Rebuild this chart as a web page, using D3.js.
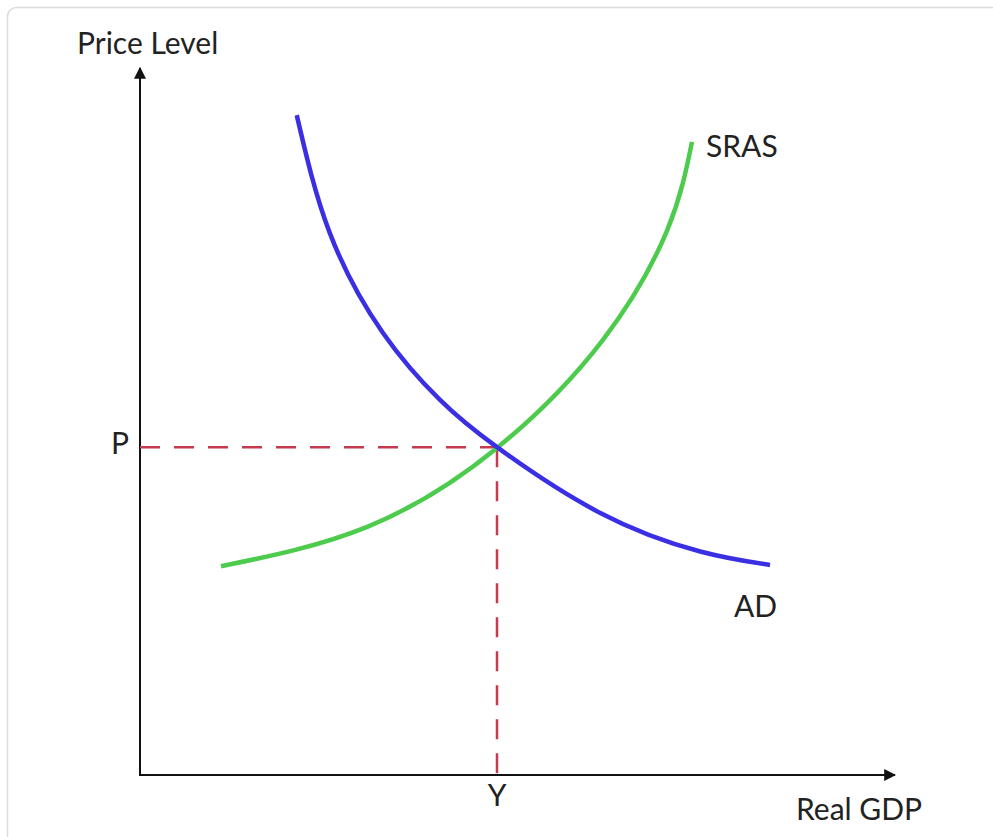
<!DOCTYPE html>
<html>
<head>
<meta charset="utf-8">
<script src="https://cdn.jsdelivr.net/npm/d3@7"></script>
<style>
  body { margin: 0; background: #fff; }
  text { font-family: Lato, "Open Sans", sans-serif; fill: #222; }
</style>
</head>
<body>
<div id="chart"></div>
<script>
// Curve data (abstract units, 0-10 on both axes)
const srasX = [1.08, 3.03, 4.76, 6.17, 7.03, 7.36];
const srasY = [2.96, 3.52, 4.64, 6.17, 7.73, 8.98];
const adX = [2.09, 2.53, 3.24, 4.00, 4.76, 6.13, 7.47, 8.40];
const adY = [9.36, 7.69, 6.27, 5.32, 4.65, 3.72, 3.17, 2.98];
const equilibrium = { x: 4.76, y: 4.65 };
const labels = { y: 'Price Level', x: 'Real GDP', p: 'P', q: 'Y', sras: 'SRAS', ad: 'AD' };

const width = 993;
const height = 837;

const svg = d3.select('#chart')
    .append('svg')
    .attr('width', width)
    .attr('height', height);

// light frame around the figure
svg.append('rect')
    .attr('x', 7.5)
    .attr('y', 7.5)
    .attr('width', 1100)
    .attr('height', 1000)
    .attr('rx', 9)
    .attr('fill', 'none')
    .attr('stroke', '#dcdcdc')
    .attr('stroke-width', 1.5);

const xScale = d3.scaleLinear().domain([0, 10]).range([140, 890]);
const yScale = d3.scaleLinear().domain([0, 10]).range([775, 70]);

// arrow marker
svg.append('defs').append('marker')
    .attr('id', 'arrow')
    .attr('viewBox', '0 0 10 10')
    .attr('refX', 9)
    .attr('refY', 5)
    .attr('markerWidth', 6)
    .attr('markerHeight', 6)
    .attr('markerUnits', 'strokeWidth')
    .attr('orient', 'auto')
    .append('path')
    .attr('d', 'M0,0 L10,5 L0,10 Z')
    .attr('fill', '#111');

// axes
svg.append('line')
    .attr('x1', xScale(0)).attr('y1', yScale(0))
    .attr('x2', xScale(0)).attr('y2', yScale(10) - 2)
    .attr('stroke', '#111').attr('stroke-width', 2)
    .attr('marker-end', 'url(#arrow)');

svg.append('line')
    .attr('x1', xScale(0) - 1).attr('y1', yScale(0))
    .attr('x2', xScale(10) + 5).attr('y2', yScale(0))
    .attr('stroke', '#111').attr('stroke-width', 2)
    .attr('marker-end', 'url(#arrow)');

// dashed guide lines
const dashColor = '#c33b4c';
svg.append('line')
    .attr('x1', xScale(0)).attr('y1', yScale(equilibrium.y))
    .attr('x2', xScale(equilibrium.x)).attr('y2', yScale(equilibrium.y))
    .attr('stroke', dashColor).attr('stroke-width', 2.5)
    .attr('stroke-dasharray', '20,14');

svg.append('line')
    .attr('x1', xScale(equilibrium.x)).attr('y1', yScale(equilibrium.y))
    .attr('x2', xScale(equilibrium.x)).attr('y2', yScale(0))
    .attr('stroke', dashColor).attr('stroke-width', 2.5)
    .attr('stroke-dasharray', '20,14');

// curves
const line = d3.line()
    .x(d => xScale(d[0]))
    .y(d => yScale(d[1]))
    .curve(d3.curveNatural);

svg.append('path')
    .datum(srasX.map((x, i) => [x, srasY[i]]))
    .attr('d', line)
    .attr('fill', 'none')
    .attr('stroke', '#4ccb4c')
    .attr('stroke-width', 4.5)
    .attr('stroke-linecap', 'butt');

svg.append('path')
    .datum(adX.map((x, i) => [x, adY[i]]))
    .attr('d', line)
    .attr('fill', 'none')
    .attr('stroke', '#3b2fe3')
    .attr('stroke-width', 4.5)
    .attr('stroke-linecap', 'butt');

// labels
svg.append('text').attr('x', 77).attr('y', 54)
    .style('font-size', '30px').text(labels.y);
svg.append('text').attr('x', 796).attr('y', 820)
    .style('font-size', '30px').text(labels.x);
svg.append('text').attr('x', 129).attr('y', 454).attr('text-anchor', 'end')
    .style('font-size', '30px').text(labels.p);
svg.append('text').attr('x', xScale(equilibrium.x)).attr('y', 806).attr('text-anchor', 'middle')
    .style('font-size', '30px').text(labels.q);
svg.append('text').attr('x', 706).attr('y', 157)
    .style('font-size', '30px').text(labels.sras);
svg.append('text').attr('x', 734).attr('y', 617)
    .style('font-size', '30px').text(labels.ad);
</script>
</body>
</html>
